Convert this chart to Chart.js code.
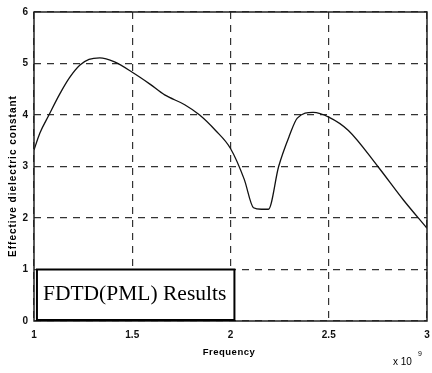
<!DOCTYPE html>
<html>
<head>
<meta charset="utf-8">
<script src="https://cdn.jsdelivr.net/npm/chart.js@4/dist/chart.umd.min.js"></script>
<style>
  html, body { margin: 0; padding: 0; background: #fff; }
  #wrap { width: 432px; height: 373px; }
</style>
</head>
<body>
<div id="wrap"><canvas id="c"></canvas></div>
<script>
// frequency (x 10^9) and effective dielectric constant
const freq = [1.0, 1.03, 1.076, 1.13, 1.18, 1.234, 1.28, 1.335, 1.41, 1.5, 1.59, 1.665, 1.767, 1.843, 1.924, 2.0, 2.07, 2.117, 2.157, 2.193, 2.245, 2.30, 2.34, 2.42, 2.5, 2.6, 2.75, 2.88, 3.0];
const epsEff = [3.32, 3.65, 4.0, 4.4, 4.72, 4.97, 5.08, 5.11, 5.03, 4.83, 4.6, 4.39, 4.2, 4.0, 3.7, 3.35, 2.75, 2.2, 2.17, 2.17, 3.0, 3.6, 3.94, 4.05, 3.96, 3.7, 3.0, 2.35, 1.8];
const xTicks = [1, 1.5, 2, 2.5, 3];
const yTicks = [0, 1, 2, 3, 4, 5, 6];
const legendText = 'FDTD(PML) Results';

let pts = []
for (var i = 0; i < freq.length; i++) {
    pts.push({x: freq[i], y: epsEff[i]})
}

const extras = {
    id: 'extras',
    afterDraw(chart) {
        const ctx = chart.ctx
        const a = chart.chartArea
        const xs = chart.scales.x, ys = chart.scales.y
        ctx.save()
        // frame
        ctx.strokeStyle = '#222'
        ctx.lineWidth = 1.5
        ctx.strokeRect(a.left, a.top, a.right - a.left, a.bottom - a.top)
        // legend box
        const bx = xs.getPixelForValue(1.015), by = ys.getPixelForValue(1)
        const bw = xs.getPixelForValue(2.02) - bx, bh = ys.getPixelForValue(0) - by - 1
        ctx.fillStyle = '#fff'
        ctx.fillRect(bx, by, bw, bh)
        ctx.lineWidth = 2
        ctx.strokeStyle = '#000'
        ctx.strokeRect(bx, by, bw, bh)
        ctx.fillStyle = '#000'
        ctx.font = '21.5px "Liberation Serif", serif'
        ctx.textBaseline = 'alphabetic'
        ctx.fillText(legendText, bx + 6, by + 30)
        // axis titles
        ctx.font = 'bold 9.5px "Liberation Sans", Arial, sans-serif'
        ctx.textAlign = 'center'
        ctx.letterSpacing = '0.5px'
        ctx.fillText('Frequency', 229, 355)
        ctx.translate(16, 176)
        ctx.rotate(-Math.PI / 2)
        ctx.font = 'bold 10px "Liberation Sans", Arial, sans-serif'
        ctx.letterSpacing = '1px'
        ctx.fillText('Effective dielectric constant', 0, 0)
        ctx.restore()
        ctx.save()
        ctx.fillStyle = '#000'
        ctx.font = '10px "Liberation Sans", Arial, sans-serif'
        ctx.fillText('x 10', 393, 365)
        ctx.font = '7px "Liberation Sans", Arial, sans-serif'
        ctx.fillText('9', 418, 356)
        ctx.restore()
    }
}

const data = {
    datasets: [{
        data: pts,
        borderColor: '#111',
        borderWidth: 1.3,
        pointRadius: 0,
        tension: 0.4,
        cubicInterpolationMode: 'monotone',
        fill: false
    }]
};

const config = {
    type: 'line',
    data: data,
    options: {
        responsive: true,
        maintainAspectRatio: false,
        animation: false,
        layout: {padding: {top: 12, right: 5, left: 0, bottom: 0}},
        plugins: {legend: {display: false}, tooltip: {enabled: false}},
        scales: {
            x: {
                type: 'linear',
                min: 1, max: 3,
                afterBuildTicks: (s) => { s.ticks = xTicks.map(v => ({value: v})) },
                afterFit: (s) => { s.height = 52; s.paddingLeft = 0; s.paddingRight = 0 },
                grid: {color: '#333', lineWidth: 1.2, drawTicks: false},
                border: {display: false, dash: [7, 6]},
                ticks: {color: '#111', padding: 8, font: {family: 'Liberation Sans', size: 10, weight: 'bold'}, callback: (v) => String(v)}
            },
            y: {
                type: 'linear',
                min: 0, max: 6,
                afterBuildTicks: (s) => { s.ticks = yTicks.map(v => ({value: v})) },
                afterFit: (s) => { s.width = 34; s.paddingTop = 0; s.paddingBottom = 0 },
                grid: {color: '#333', lineWidth: 1.2, drawTicks: false},
                border: {display: false, dash: [7, 6]},
                ticks: {color: '#111', padding: 6, font: {family: 'Liberation Sans', size: 10, weight: 'bold'}}
            }
        }
    },
    plugins: [extras]
};

let c = document.getElementById('c').getContext('2d')
new Chart(c, config)
</script>
</body>
</html>
